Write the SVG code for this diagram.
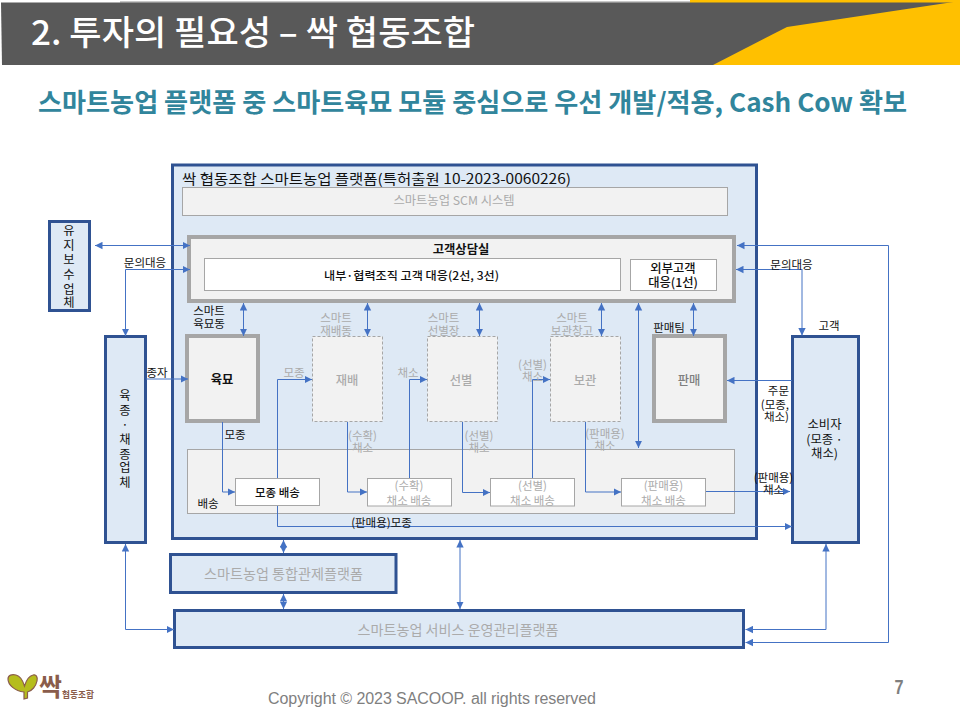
<svg xmlns="http://www.w3.org/2000/svg" width="960" height="720" viewBox="0 0 960 720">
<style>
text{font-family:"Noto Sans CJK KR","Noto Sans",sans-serif;font-size:11.500px;fill:#111;text-anchor:middle;dominant-baseline:central}
.g{fill:#ababab}
.m{font-weight:500}
.b{font-weight:700}
.l{font-size:12.300px}
.box{fill:#dee9f5;stroke:#2f5292;stroke-width:3}
.gray{fill:#f2f2f2;stroke:#a6a6a6;stroke-width:4}
.thin{fill:#f2f2f2;stroke:#a6a6a6;stroke-width:1}
.dash{fill:#f2f2f2;stroke:#a6a6a6;stroke-width:1;stroke-dasharray:3 2}
.wh{fill:#fff;stroke:#a6a6a6;stroke-width:1}
#connectors path{fill:none;stroke:#4472c4;stroke-width:1}
.one{marker-end:url(#a)}
.two{marker-start:url(#a);marker-end:url(#a)}
</style>
<defs>
<marker id="a" markerUnits="userSpaceOnUse" markerWidth="8" markerHeight="8" refX="7.500" refY="4" orient="auto-start-reverse">
<path d="M0 .3L7.500 4L0 7.700z" fill="#4472c4"/>
</marker>
</defs>
<g id="header">
<path d="M120 1H900V3H120z" fill="#c8c8c8"/>
<path d="M690 0H960V3H690z" fill="#ffc000"/>
<path d="M1 2.500H960V65H2z" fill="#595959"/>
<path d="M960 1V65H713L787 27z" fill="#ffc000"/>
<text x="31" y="30" style="font-size:34px;text-anchor:start;fill:#fff;font-weight:500" textLength="444" lengthAdjust="spacingAndGlyphs">2. 투자의 필요성 – 싹 협동조합</text>
<text x="38" y="100" style="font-size:26px;text-anchor:start;fill:#31859c;font-weight:700" textLength="869" lengthAdjust="spacingAndGlyphs">스마트농업 플랫폼 중 스마트육묘 모듈 중심으로 우선 개발/적용, Cash Cow 확보</text>
</g>
<g id="main-platform">
<rect class="box" x="172.500" y="165" width="584" height="373.500"/>
<text x="182" y="178" style="font-size:14px;text-anchor:start" textLength="389" lengthAdjust="spacingAndGlyphs">싹 협동조합 스마트농업 플랫폼(특허출원 10-2023-0060226)</text>
</g>
<g id="scm"><rect class="thin" x="182.500" y="187.500" width="545" height="28"/><text class="g l" x="454" y="200">스마트농업 SCM 시스템</text></g>
<g id="maintenance"><rect class="box" x="49.500" y="221.500" width="40" height="89"/>
<text class="l"><tspan x="69" y="230">유</tspan><tspan x="69" y="244.500">지</tspan><tspan x="69" y="259">보</tspan><tspan x="69" y="273.500">수</tspan><tspan x="69" y="288.500">업</tspan><tspan x="69" y="302">체</tspan></text></g>
<g id="breeder"><rect class="box" x="105.500" y="336.500" width="40" height="206"/>
<text class="l"><tspan x="125" y="394.500">육</tspan><tspan x="125" y="410">종</tspan><tspan x="125" y="424">·</tspan><tspan x="125" y="438.500">채</tspan><tspan x="125" y="453.500">종</tspan><tspan x="125" y="467">업</tspan><tspan x="125" y="482">체</tspan></text></g>
<g id="consumer"><rect class="box" x="792.500" y="336.500" width="66" height="206"/>
<text class="l"><tspan x="824.500" y="423.500">소비자</tspan><tspan x="824.500" y="439">(모종 ·</tspan><tspan x="824.500" y="452.500">채소)</tspan></text></g>
<g id="counsel"><rect class="gray" x="189" y="237" width="545" height="64"/>
<text class="b l" x="461" y="249">고객상담실</text></g>
<g id="internal"><rect class="wh" x="204.500" y="258.500" width="416" height="32"/><text class="m" x="411.500" y="275" textLength="175" lengthAdjust="spacingAndGlyphs">내부·협력조직  고객 대응(2선, 3선)</text></g>
<g id="external"><rect class="wh" x="630.500" y="259.500" width="86" height="31"/><text class="m l"><tspan x="673" y="268">외부고객</tspan><tspan x="673" y="282">대응(1선)</tspan></text></g>
<g id="seedling"><rect class="gray" x="187" y="336" width="71" height="85"/><text class="b l" x="222" y="379">육묘</text>
<text><tspan x="209" y="310">스마트</tspan><tspan x="209" y="323">육묘동</tspan></text></g>
<g id="cultivation"><rect class="dash" x="312.500" y="336.500" width="70" height="85"/><text class="g m l" x="347" y="379.500">재배</text>
<text class="g"><tspan x="336" y="317">스마트</tspan><tspan x="336" y="330">재배동</tspan></text></g>
<g id="sorting"><rect class="dash" x="427.500" y="336.500" width="70" height="85"/><text class="g m l" x="461" y="379.500">선별</text>
<text class="g"><tspan x="443.500" y="317">스마트</tspan><tspan x="443.500" y="330">선별장</tspan></text></g>
<g id="storage"><rect class="dash" x="550.500" y="336.500" width="70" height="85"/><text class="g m l" x="585" y="379.500">보관</text>
<text class="g"><tspan x="572" y="317">스마트</tspan><tspan x="572" y="330">보관창고</tspan></text></g>
<g id="sales"><rect class="gray" x="654" y="336" width="71" height="85"/><text class="m l" x="689" y="379.500" style="fill:#7f7f7f">판매</text>
<text x="669" y="327">판매팀</text></g>
<g id="delivery"><rect class="thin" x="187.500" y="449.500" width="547" height="64"/><text x="208" y="502.500">배송</text></g>
<g id="d-seedling"><rect class="wh" x="235.500" y="478.500" width="84" height="27"/><text class="m" x="277.500" y="492">모종 배송</text></g>
<g id="d-harvest"><rect class="wh" x="367.500" y="478.500" width="84" height="27.500"/><text class="g"><tspan x="409" y="485">(수확)</tspan><tspan x="409" y="499.500">채소 배송</tspan></text></g>
<g id="d-sorted"><rect class="wh" x="490.500" y="478.500" width="84" height="27.500"/><text class="g"><tspan x="532.500" y="485">(선별)</tspan><tspan x="532.500" y="499.500">채소 배송</tspan></text></g>
<g id="d-sale"><rect class="wh" x="621.500" y="478.500" width="84" height="27.500"/><text class="g"><tspan x="663.500" y="485">(판매용)</tspan><tspan x="663.500" y="499.500">채소 배송</tspan></text></g>
<g id="control"><rect class="box" x="170.500" y="554.500" width="225.500" height="38"/><text class="g" x="283.500" y="573" style="font-size:14.100px">스마트농업 통합관제플랫폼</text></g>
<g id="operation"><rect class="box" x="174.500" y="610.500" width="569" height="37"/><text class="g" x="458" y="628.500" style="font-size:14.100px">스마트농업 서비스 운영관리플랫폼</text></g>
<g id="connectors">
<path class="two" d="M95 245.500H190"/>
<path class="two" d="M190 269.500H125.500V336"/>
<path class="one" d="M146 379H188"/>
<path class="two" d="M243.500 303V336"/>
<path class="two" d="M367.500 303V336"/>
<path class="two" d="M479.500 303V336"/>
<path class="two" d="M601.500 303V336"/>
<path class="two" d="M638.500 303V448"/>
<path class="two" d="M693.500 303V336"/>
<path class="two" d="M737 245.500H888.500V642.500H745.500"/>
<path class="one" d="M802 269.500H736"/>
<path class="one" d="M802 269V335.500"/>
<path class="one" d="M792 380.500H727"/>
<path class="one" d="M222.500 422V492H235"/>
<path class="one" d="M277.500 478V379.500H312"/>
<path class="one" d="M277.500 506V526.500H792"/>
<path class="one" d="M347.500 422V492H367"/>
<path class="one" d="M409.500 478V379.500H427"/>
<path class="one" d="M462.500 422V492.500H490"/>
<path class="one" d="M532.500 478V379.500H550"/>
<path class="one" d="M585.500 422V492H621"/>
<path class="one" d="M706 491.500H790"/>
<path class="two" d="M283.500 540V553"/>
<path class="two" d="M283.500 594V609"/>
<path class="two" d="M460 540V609"/>
<path class="two" d="M125.500 544V629.500H174"/>
<path class="two" d="M826 544V629.500H745.500"/>
</g>
<g id="labels">
<text x="145" y="262">문의대응</text>
<text x="791.500" y="264">문의대응</text>
<text x="829" y="325">고객</text>
<text x="157" y="372">종자</text>
<text class="g" x="294" y="372">모종</text>
<text class="g" x="408" y="372">채소</text>
<text class="g"><tspan x="532.500" y="363.500">(선별)</tspan><tspan x="532.500" y="376">채소</tspan></text>
<text x="235" y="434">모종</text>
<text class="g"><tspan x="362.500" y="434.500">(수확)</tspan><tspan x="362.500" y="447">채소</tspan></text>
<text class="g"><tspan x="479" y="434.500">(선별)</tspan><tspan x="479" y="447">채소</tspan></text>
<text class="g"><tspan x="605" y="432.500">(판매용)</tspan><tspan x="605" y="445">채소</tspan></text>
<text x="381.500" y="521.500">(판매용)모종</text>
<text style="text-anchor:end"><tspan x="789" y="390">주문</tspan><tspan x="789" y="403.500">(모종,</tspan><tspan x="789" y="416">채소)</tspan></text>
<text><tspan x="773.500" y="476.500">(판매용)</tspan><tspan x="773.500" y="488.500">채소</tspan></text>
</g>
<g id="footer">
<path d="M24 692C15 691 8 685 8 679C8 675 12 674 16 675C20 676 23 681 24.500 686C26 681 29 676 33 675C36 674 38 677 37 681C36 686 32 691 27.500 692L27.500 698L24 699z" fill="#b5bd1c" stroke="#8a5c4b" stroke-width="1.200"/>
<text x="50.500" y="685" style="font-size:25px;font-weight:700;fill:#8a5c4b">싹</text>
<text x="78" y="694" style="font-size:9.500px;font-weight:700;fill:#8a5c4b" textLength="32" lengthAdjust="spacingAndGlyphs">협동조합</text>
<text x="268" y="698" style="font-family:'Liberation Sans',sans-serif;font-size:16px;text-anchor:start;fill:#7f7f7f" textLength="328">Copyright © 2023 SACOOP. all rights reserved</text>
<text x="899" y="687" class="b" style="font-family:'Liberation Sans',sans-serif;font-size:20px;fill:#7f7f7f" textLength="9" lengthAdjust="spacingAndGlyphs">7</text>
</g>
</svg>
